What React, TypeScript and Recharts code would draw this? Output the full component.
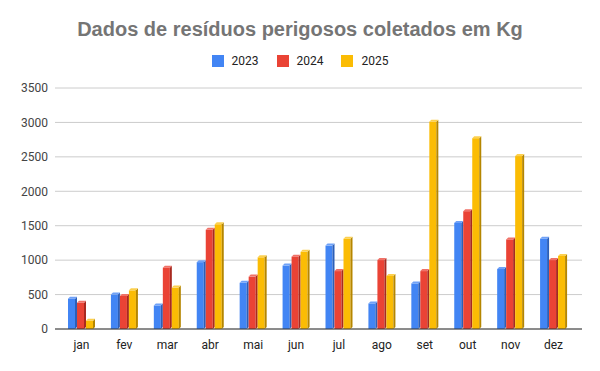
import React from 'react';
import { BarChart, Bar, XAxis, YAxis, CartesianGrid, Legend } from 'recharts';

const months = ['jan', 'fev', 'mar', 'abr', 'mai', 'jun', 'jul', 'ago', 'set', 'out', 'nov', 'dez'];
const y2023 = [470, 530, 370, 1000, 700, 950, 1240, 400, 690, 1570, 900, 1340];
const y2024 = [410, 510, 920, 1470, 790, 1080, 870, 1030, 870, 1740, 1330, 1030];
const y2025 = [150, 590, 630, 1550, 1070, 1150, 1340, 800, 3040, 2800, 2540, 1090];
const yTicks = [0, 500, 1000, 1500, 2000, 2500, 3000, 3500];

const seriesList = [
    { key: '2023', color: '#4285F4', side: '#2c5fb8', top: '#6fa1f7' },
    { key: '2024', color: '#EA4335', side: '#a8291f', top: '#f07167' },
    { key: '2025', color: '#FBBC04', side: '#b58600', top: '#fcd04e' },
];

const chartData = months.map((m, i) => ({
    month: m,
    '2023': y2023[i],
    '2024': y2024[i],
    '2025': y2025[i],
}));

// bar with a small 3d bevel: lighter top, darker right side (kept inside the bar box)
const bevelShape = (s: { color: string; side: string; top: string }) => (props: any) => {
    const { x, y, width, height } = props;
    if (!height || height <= 0) return null;
    const d = 2;
    const fw = width - d;
    const ft = y + d;
    return (
        <g>
            <rect x={x} y={ft} width={fw} height={Math.max(0, height - d)} fill={s.color} />
            <polygon
                points={`${x + fw},${ft} ${x + width},${y} ${x + width},${y + height - d} ${x + fw},${y + height}`}
                fill={s.side}
            />
            <polygon
                points={`${x},${ft} ${x + d},${y} ${x + width},${y} ${x + fw},${ft}`}
                fill={s.top}
            />
        </g>
    );
};

const LegendContent = () => (
    <div style={{ display: 'flex', justifyContent: 'center', gap: 18, fontFamily: 'Roboto, sans-serif', fontSize: 12, color: '#222', height: 14, lineHeight: '14px' }}>
        {seriesList.map((s) => (
            <div key={s.key} style={{ display: 'flex', alignItems: 'center', gap: 8 }}>
                <span style={{ width: 12, height: 12, background: s.color, display: 'inline-block' }} />
                <span>{s.key}</span>
            </div>
        ))}
    </div>
);

export default function App() {
    return (
        <div style={{ position: 'absolute', left: 0, top: 0, width: 600, height: 371, background: '#fff' }}>
            <div
                style={{
                    position: 'absolute',
                    top: 18,
                    left: 0,
                    width: 600,
                    textAlign: 'center',
                    fontFamily: '"Liberation Sans", Arial, sans-serif',
                    fontWeight: 'bold',
                    fontSize: 20,
                    color: '#757575',
                }}
            >
                Dados de resíduos perigosos coletados em Kg
            </div>
            <BarChart
                width={600}
                height={371}
                data={chartData}
                margin={{ top: 74, right: 18, left: 0, bottom: 12 }}
                barSize={9}
                barGap={0}
            >
                <CartesianGrid vertical={false} stroke="#cccccc" />
                <XAxis
                    dataKey="month"
                    tickLine={false}
                    axisLine={{ stroke: '#333333' }}
                    padding={{ left: 5, right: 7 }}
                    tick={{ fontSize: 12, fill: '#222', fontFamily: 'Roboto, sans-serif' }}
                    tickMargin={5}
                />
                <YAxis
                    width={55}
                    domain={[0, 3500]}
                    ticks={yTicks}
                    tickLine={false}
                    axisLine={false}
                    tickMargin={1}
                    tick={{ fontSize: 12, fill: '#444', fontFamily: 'Roboto, sans-serif' }}
                />
                <Legend
                    verticalAlign="top"
                    content={<LegendContent />}
                    wrapperStyle={{ top: 54, left: 0, width: 600 }}
                />
                {seriesList.map((s) => (
                    <Bar
                        key={s.key}
                        dataKey={s.key}
                        fill={s.color}
                        shape={bevelShape(s)}
                        isAnimationActive={false}
                    />
                ))}
            </BarChart>
        </div>
    );
}
